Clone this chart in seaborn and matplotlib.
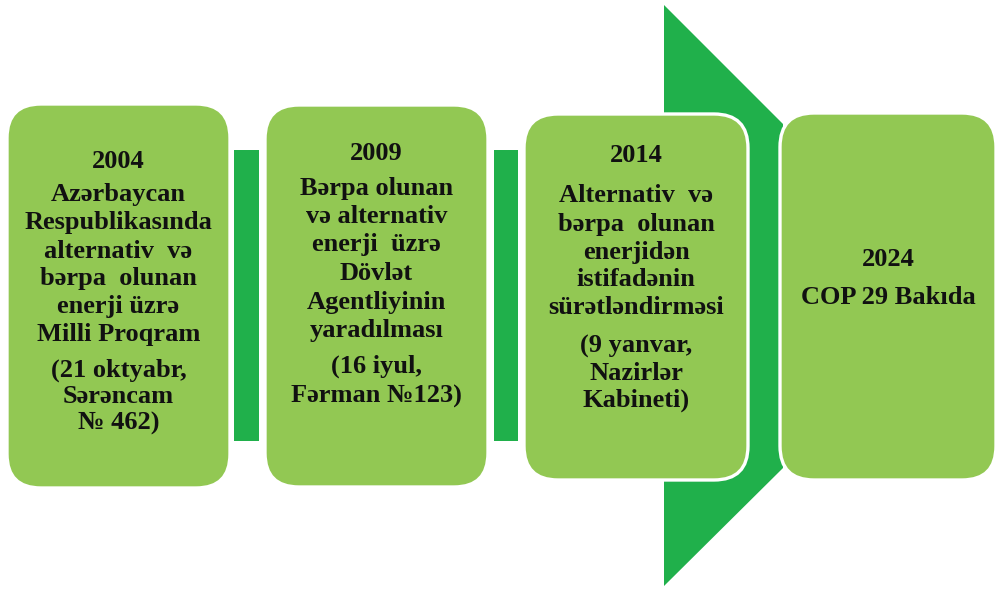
import matplotlib
matplotlib.use("Agg")
import matplotlib.pyplot as plt
from matplotlib.patches import FancyBboxPatch, Rectangle, Polygon
import seaborn as sns

# timeline content
years = ["2004", "2009", "2014", "2024"]
bodies = [
    ["Azərbaycan", "Respublikasında", "alternativ  və", "bərpa  olunan",
     "enerji üzrə", "Milli Proqram"],
    ["Bərpa olunan", "və alternativ", "enerji  üzrə", "Dövlət",
     "Agentliyinin", "yaradılması"],
    ["Alternativ  və", "bərpa  olunan", "enerjidən", "istifadənin",
     "sürətləndirməsi"],
    ["COP 29 Bakıda"],
]
notes = [
    ["(21 oktyabr,", "Sərəncam", "№ 462)"],
    ["(16 iyul,", "Fərman №123)"],
    ["(9 yanvar,", "Nazirlər", "Kabineti)"],
    [],
]

# layout in pixels (x0, y0, x1, y1), y from the top
boxes = [(7, 104, 230, 488), (265, 105, 488, 487),
         (524, 114, 748, 480), (780, 113, 996, 480)]
# year_y, body_y0, body_step, note_y0, note_step
text_pos = [(158, 192, 28, 367, 26.5),
            (150, 185, 28.5, 363, 30),
            (153, 193, 28, 343, 27),
            (257, 295, 28, 0, 0)]
connectors = [(234, 150, 259, 441), (494, 150, 518, 441)]
chevron = [(664, 5), (783, 124), (783, 468), (664, 586)]
shift = 3  # va=center puts glyphs a little high

light = "#92C853"
dark = "#20B04B"

sns.set_theme(style="white")
plt.rcParams['font.family'] = ['Liberation Serif', 'DejaVu Serif']

fig = plt.figure(figsize=(9.96, 5.89), dpi=100)
ax = fig.add_axes([0, 0, 1, 1])
ax.set_xlim(0, 996)
ax.set_ylim(589, 0)
ax.axis("off")

ax.add_patch(Polygon(chevron, closed=True, facecolor=dark, edgecolor="none", zorder=1))
for x0, y0, x1, y1 in connectors:
    ax.add_patch(Rectangle((x0, y0), x1 - x0, y1 - y0, facecolor=dark,
                           edgecolor="none", zorder=1))

for i, (x0, y0, x1, y1) in enumerate(boxes):
    ax.add_patch(FancyBboxPatch((x0, y0), x1 - x0, y1 - y0,
                                boxstyle="round,pad=0,rounding_size=34",
                                facecolor=light, edgecolor="white",
                                linewidth=2.4, zorder=2))
    cx = (x0 + x1) / 2
    yy, b0, bs, n0, ns = text_pos[i]
    kw = dict(ha="center", va="center", fontsize=19, fontweight="bold",
              color="#111111", zorder=3)
    ax.text(cx, yy + shift, years[i], **kw)
    for j, line in enumerate(bodies[i]):
        ax.text(cx, b0 + j * bs + shift, line, **kw)
    for j, line in enumerate(notes[i]):
        ax.text(cx, n0 + j * ns + shift, line, **kw)

fig.savefig("out.png", dpi=100, facecolor="white")
